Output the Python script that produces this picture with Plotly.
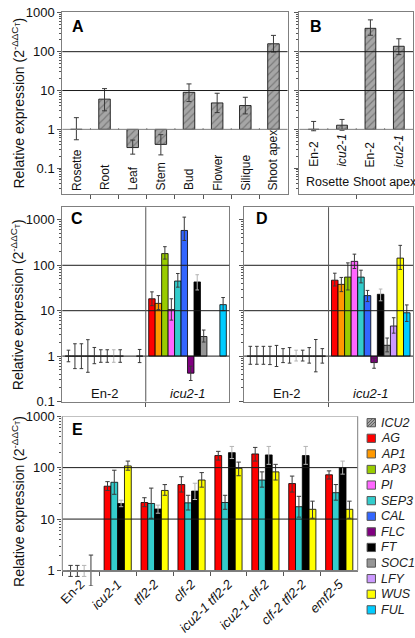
import plotly.graph_objects as go
import math

W, H = 415, 638

# ---------------- data ----------------
genes = ["AG", "AP1", "AP3", "PI", "SEP3", "CAL", "FLC", "FT", "SOC1", "LFY", "WUS", "FUL"]
gene_colors = ["#ff0000", "#ff9900", "#99cc00", "#ff66ff", "#33cccc", "#3366ff",
               "#800080", "#000000", "#969696", "#cc99ff", "#ffff00", "#00ccff"]
icu2_name = "ICU2"
icu2_color = "#a6a6a6"

# Panel A: ICU2 in tissues
a_tissues = ["Rosette", "Root", "Leaf", "Stem", "Bud", "Flower", "Silique", "Shoot apex"]
a_icu2 = [1.0, 6.0, 0.34, 0.41, 9.0, 4.8, 4.1, 160]
a_icu2_hi = [2.0, 11.2, 0.53, 0.73, 14.8, 8.5, 6.7, 263]
a_icu2_lo = [0.54, 3.0, 0.23, 0.22, 5.2, 2.7, 2.5, 98]

# Panel B: ICU2 in genotypes
b_genotypes = ["En-2", "icu2-1", "En-2", "icu2-1"]
b_tissues = ["Rosette", "Shoot apex"]
b_icu2 = [1.0, 1.28, 400, 138]
b_icu2_hi = [1.6, 1.8, 660, 215]
b_icu2_lo = [0.92, 0.95, 265, 84]

# Panels C and D: genes in En-2 and icu2-1
cd_genotypes = ["En-2", "icu2-1"]
c_en2 = [1, 1, 1, 1, 1, 1, 1, 1, 1, None, None, 1]
c_en2_hi = [1.35, 1.87, 1.87, 2.3, 1.55, 1.38, 1.38, 1.38, 1.38, None, None, 1.4]
c_en2_lo = [0.75, 0.53, 0.53, 0.44, 0.68, 0.73, 0.73, 0.73, 0.73, None, None, 0.72]
c_icu = [18.3, 14.5, 181, 10.6, 45, 585, 0.42, 43, 2.7, None, None, 13.6]
c_icu_hi = [26, 21.5, 257, 18.3, 66, 1150, 0.6, 62, 3.75, None, None, 19.5]
c_icu_lo = [12.9, 10.6, 137, 6.2, 33, 352, 0.29, 28.6, 2.04, None, None, 10]

d_en2 = [1, 1, 1, 1, 1, 1, 1, 1, 1, 1, 1, 1]
d_en2_hi = [1.64, 1.64, 1.64, 1.64, 1.72, 1.46, 1.54, 1.35, 1.35, 1.54, 2.32, 1.46]
d_en2_lo = [0.66, 0.66, 0.66, 0.65, 0.59, 0.72, 0.7, 0.78, 0.78, 0.7, 0.45, 0.7]
d_icu = [47, 38, 55, 122, 55, 21.5, 0.72, 23, 1.73, 4.6, 144, 9.0]
d_icu_hi = [67, 54, 113, 176, 78, 28, 0.9, 30, 2.5, 7.0, 275, 13.4]
d_icu_lo = [35, 26.3, 28.6, 85, 41, 15.9, 0.54, 16.5, 1.24, 3.2, 81, 5.8]

# Panel E: genes in mutants
e_genotypes = ["En-2", "icu2-1", "tfl2-2", "clf-2", "icu2-1 tfl2-2", "icu2-1 clf-2", "clf-2 tfl2-2", "emf2-5"]
e_genes = ["AG", "SEP3", "FT", "WUS"]
e_vals = {
    "AG":   [1, 43.6, 21, 46.9, 171.5, 184.5, 49, 72.6],
    "SEP3": [1, 51.9, 20.1, 20.7, 21, 57.4, 17.4, 32.6],
    "FT":   [1, 20.1, 15.7, 35, 195.5, 176.6, 171.5, 100],
    "WUS":  [1, 108, 36, 57.4, 97, 82.7, 15.5, 15.5],
}
e_hi = {
    "AG":   [1.26, 53.4, 26, 66.5, 207, 247, 68.5, 86.4],
    "SEP3": [1.26, 89, 40, 29, 29, 82.7, 27.7, 46.9],
    "FT":   [1.26, 23.3, 18.7, 49.7, 258, 258, 258, 134],
    "WUS":  [2.0, 134, 46.8, 80, 128, 115.7, 22.3, 22.3],
}
e_lo = {
    "AG":   [0.77, 36, 17.4, 33.5, 140, 134, 33.5, 60],
    "SEP3": [0.77, 30.3, 10.4, 15, 15.5, 41.7, 10.9, 23.3],
    "FT":   [0.77, 17.4, 13, 24, 150, 115.7, 115.7, 74.7],
    "WUS":  [0.5, 89, 29, 41.7, 69.5, 57.4, 10.4, 10.4],
}

major_vals = [0.1, 1, 10, 100, 1000]
major_text = ["0.1", "1", "10", "100", "1000"]

# ---------------- helpers ----------------
FONT = "Liberation Sans, Arial, sans-serif"
FRAME = "#7f7f7f"
GRID = "#1a1a1a"
ERR = "#3a3a3a"


def fx(px):
    return px / W


def fy(py):
    return 1 - py / H


def it(s):
    return s if s == "En-2" else "<i>%s</i>" % s


def bar(xs, vals, hi, lo, color, xa, ya, width, offset, errcolor=ERR, pattern=None, capw=2.0):
    y = [None if v is None else v - 1 for v in vals]
    plus = [None if v is None else h - v for v, h in zip(vals, hi)]
    minus = [None if v is None else v - l for v, l in zip(vals, lo)]
    mk = dict(color=color, line=dict(color="#000000", width=0.8))
    if pattern:
        mk["pattern"] = pattern
    return go.Bar(x=xs, y=y, base=1, width=width, offset=offset, marker=mk,
                  error_y=dict(type="data", array=plus, arrayminus=minus, color=errcolor,
                               thickness=1, width=capw, visible=True),
                  xaxis=xa, yaxis=ya, showlegend=False, hoverinfo="skip")


def err_color(g):
    return "#b4b4b4" if g == "FT" else ERR


hatch = dict(shape="/", fillmode="overlay", fgcolor="#4a4a4a", size=5, solidity=0.22)

fig = go.Figure()

# Panel A
aw = 0.41
fig.add_trace(bar(list(range(len(a_tissues))), a_icu2, a_icu2_hi, a_icu2_lo, icu2_color,
                  "x", "y", aw, -aw / 2, pattern=hatch, capw=2.5))
# Panel B
bw = 0.38
fig.add_trace(bar(list(range(len(b_genotypes))), b_icu2, b_icu2_hi, b_icu2_lo, icu2_color,
                  "x2", "y2", bw, -bw / 2, pattern=hatch, capw=2.5))

# Panels C, D
n = len(genes)
w_cd = 0.0775
for k, g in enumerate(genes):
    off = -n * w_cd / 2 + k * w_cd
    xs = list(range(len(cd_genotypes)))
    fig.add_trace(bar(xs, [c_en2[k], c_icu[k]], [c_en2_hi[k], c_icu_hi[k]], [c_en2_lo[k], c_icu_lo[k]],
                      gene_colors[k], "x3", "y3", w_cd, off, errcolor=err_color(g), capw=1.8))
    fig.add_trace(bar(xs, [d_en2[k], d_icu[k]], [d_en2_hi[k], d_icu_hi[k]], [d_en2_lo[k], d_icu_lo[k]],
                      gene_colors[k], "x4", "y4", w_cd, off, errcolor=err_color(g), capw=1.8))

# Panel E
e_labels = [it(s) for s in e_genotypes]
ne = len(e_genes)
w_e = 0.184
for k, g in enumerate(e_genes):
    off = -ne * w_e / 2 + k * w_e
    fig.add_trace(bar(e_labels, e_vals[g], e_hi[g], e_lo[g], gene_colors[genes.index(g)],
                      "x5", "y5", w_e, off, errcolor=err_color(g), capw=2.2))

# ---------------- axes ----------------
def minor_list(lo_val):
    out = []
    for e in range(-2, 3):
        for m in range(2, 10):
            v = m * 10 ** e
            if v >= lo_val:
                out.append(v)
    return out


def yax(rng, dom, labels=True, anchor="x", tickvals=major_vals, ticktext=major_text, minor_lo=0.02, line=True):
    return dict(type="log", range=rng, domain=dom, anchor=anchor,
                tickmode="array", tickvals=tickvals, ticktext=ticktext,
                showticklabels=labels, ticks="outside", ticklen=4, tickcolor="#555",
                tickfont=dict(size=13, color="#111", family=FONT),
                showline=line, linecolor=FRAME, linewidth=1, mirror=line,
                showgrid=False, zeroline=False,
                minor=dict(tickmode="array", tickvals=minor_list(minor_lo), ticks="outside",
                           ticklen=2, tickcolor="#555", showgrid=False))


def xax(rng, dom, tickvals, anchor):
    return dict(range=rng, domain=dom, anchor=anchor, tickmode="array", tickvals=tickvals,
                ticks="outside", ticklen=4, tickcolor="#555", showticklabels=False,
                showline=True, linecolor=FRAME, linewidth=1, mirror=True,
                showgrid=False, zeroline=False)


ab_range = [-1.652, 3.025]
cd_range = [-1, 3.28]
e_range = [math.log10(0.5), 3]

A_x, A_y = [fx(58), fx(286)], [fy(191), fy(5)]
B_x, B_y = [fx(298), fx(413)], [fy(191), fy(5)]
C_x, C_y = [fx(58), fx(227)], [fy(404), fy(205)]
D_x, D_y = [fx(242), fx(413)], [fy(404), fy(205)]
E_x, E_y = [fx(58), fx(357)], [fy(593), fy(419)]

na = len(a_tissues)
nb = len(b_genotypes)
ncd = len(cd_genotypes)

layout_axes = dict(
    xaxis=xax([-0.5, na - 0.5], A_x, [i + 0.5 for i in range(na - 1)], "y"),
    yaxis=yax(ab_range, A_y, anchor="x"),
    xaxis2=xax([-0.5, nb - 0.5], B_x, [1.5], "y2"),
    yaxis2=yax(ab_range, B_y, labels=False, anchor="x2"),
    xaxis3=xax([-0.5, ncd - 0.5], C_x, [0.5], "y3"),
    yaxis3=yax(cd_range, C_y, anchor="x3", minor_lo=0.2),
    xaxis4=xax([-0.5, ncd - 0.5], D_x, [0.5], "y4"),
    yaxis4=yax(cd_range, D_y, labels=False, anchor="x4", minor_lo=0.2),
)

one_pos = E_y[0] + (0 - e_range[0]) / (e_range[1] - e_range[0]) * (E_y[1] - E_y[0])
layout_axes["xaxis5"] = dict(type="category", categoryorder="array", categoryarray=e_labels,
                             range=[-0.5, len(e_labels) - 0.5], domain=E_x, anchor="free",
                             position=one_pos, tickson="boundaries", ticks="outside", ticklen=4,
                             tickcolor="#555", tickangle=-45,
                             tickfont=dict(size=13, color="#111", family=FONT),
                             showline=True, linecolor=FRAME, linewidth=1, showgrid=False, zeroline=False)
layout_axes["yaxis5"] = yax(e_range, E_y, anchor="x5", tickvals=major_vals[1:], ticktext=major_text[1:],
                            minor_lo=2, line=False)

# ---------------- shapes (data values on log axes) ----------------
shapes = []


def hline(xr, yr, val, color=GRID):
    shapes.append(dict(type="line", xref=xr + " domain", yref=yr, x0=0, x1=1,
                       y0=val, y1=val, line=dict(color=color, width=1), layer="above"))


def tick_on_one(xr, yr, xv):
    shapes.append(dict(type="line", xref=xr, yref=yr, x0=xv, x1=xv, ysizemode="pixel",
                       yanchor=1, y0=-4, y1=1, line=dict(color="#555", width=1)))


for xr, yr, nn in (("x", "y", na), ("x2", "y2", nb)):
    hline(xr, yr, 10)
    hline(xr, yr, 100)
    hline(xr, yr, 1, FRAME)
    for i in range(nn - 1):
        tick_on_one(xr, yr, i + 0.5)

for xr, yr in (("x3", "y3"), ("x4", "y4")):
    hline(xr, yr, 1)
    hline(xr, yr, 10)
    hline(xr, yr, 100)
    shapes.append(dict(type="line", xref=xr, yref=yr + " domain", x0=0.5, x1=0.5, y0=0, y1=1,
                       line=dict(color="#555", width=1)))

hline("x5", "y5", 10)
hline("x5", "y5", 100)
shapes.append(dict(type="rect", xref="x5 domain", yref="y5", x0=0, x1=1, y0=1, y1=1000,
                   line=dict(color=FRAME, width=1), fillcolor="rgba(0,0,0,0)"))

# ---------------- annotations ----------------
ann = []
ytitle = "Relative expression (2<sup>-ΔΔC<sub>T</sub></sup>)"
for yc in (98, 304.5, 506):
    ann.append(dict(text=ytitle, xref="paper", yref="paper", x=fx(13), y=fy(yc), textangle=-90,
                    showarrow=False, xanchor="center", yanchor="middle",
                    font=dict(size=14, color="#111", family=FONT)))

for letter, px, py in (("A", 74, 20), ("B", 315, 20), ("C", 73, 217), ("D", 260, 217), ("E", 73, 432.5)):
    ann.append(dict(text="<b>%s</b>" % letter, xref="paper", yref="paper", x=fx(px), y=fy(py),
                    showarrow=False, xanchor="center", yanchor="middle",
                    font=dict(size=16, color="#000", family=FONT)))

for i, t in enumerate(a_tissues):
    ann.append(dict(text=t, xref="x", yref="paper", x=i, y=fy(190), textangle=-90, showarrow=False,
                    xanchor="center", yanchor="bottom", font=dict(size=12, color="#111", family=FONT)))

for i, t in enumerate(b_genotypes):
    ann.append(dict(text=it(t), xref="x2", yref="paper", x=i, y=fy(166), textangle=-90, showarrow=False,
                    xanchor="center", yanchor="bottom", font=dict(size=12, color="#111", family=FONT)))
for j, t in enumerate(b_tissues):
    ann.append(dict(text=t, xref="x2", yref="paper", x=2 * j + 0.5, y=fy(179), showarrow=False,
                    xanchor="center", yanchor="middle", font=dict(size=12.5, color="#111", family=FONT)))

for xr in ("x3", "x4"):
    for i, t in enumerate(cd_genotypes):
        ann.append(dict(text=it(t), xref=xr, yref="paper", x=i, y=fy(396), showarrow=False,
                        xanchor="center", yanchor="middle", font=dict(size=13, color="#111", family=FONT)))

# legend (manual, compact)
leg_names = [icu2_name] + genes
leg_colors = [icu2_color] + gene_colors
for k, (nm, col) in enumerate(zip(leg_names, leg_colors)):
    yc = 425.7 + k * 15.97
    shapes.append(dict(type="rect", xref="paper", yref="paper", x0=fx(366.5), x1=fx(375),
                       y0=fy(yc + 4.2), y1=fy(yc - 4.2), fillcolor=col,
                       line=dict(color="#555", width=1)))
    if k == 0:
        for d in (-3, 0, 3):
            shapes.append(dict(type="line", xref="paper", yref="paper",
                               x0=fx(max(366.5, 366.5 + d)), y0=fy(min(yc + 4.2, yc + 4.2 + d)),
                               x1=fx(min(375, 375 + d)), y1=fy(max(yc - 4.2, yc - 4.2 + d)),
                               line=dict(color="#4a4a4a", width=0.8)))
    ann.append(dict(text="<i>%s</i>" % nm, xref="paper", yref="paper", x=fx(379), y=fy(yc),
                    showarrow=False, xanchor="left", yanchor="middle",
                    font=dict(size=12.5, color="#222", family=FONT)))

fig.update_layout(
    width=W, height=H, autosize=False,
    margin=dict(l=0, r=0, t=0, b=0),
    paper_bgcolor="white", plot_bgcolor="rgba(0,0,0,0)",
    barmode="overlay", showlegend=False,
    font=dict(family=FONT, size=13, color="#111"),
    shapes=shapes, annotations=ann,
    **layout_axes,
)

fig.write_html("out.html", config={"displayModeBar": False},
               post_script="document.body.style.margin='0';document.body.style.padding='0';"
                           "document.body.style.overflow='hidden';")
